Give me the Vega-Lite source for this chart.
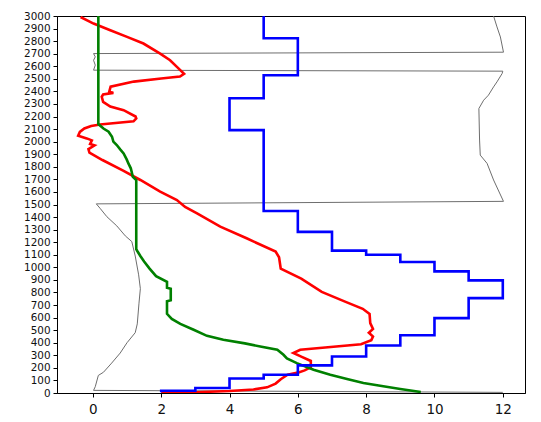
{
  "$schema": "https://vega.github.io/schema/vega-lite/v6.json",
  "width": 468,
  "height": 377,
  "autosize": {"type": "none"},
  "padding": {"left": 57, "top": 16, "right": 16, "bottom": 29},
  "background": "white",
  "config": {
    "view": {"stroke": "#000", "strokeWidth": 1},
    "axis": {"grid": false, "domainColor": "#000", "tickColor": "#000", "labelColor": "#111", "labelFont": "DejaVu Sans", "labelFontSize": 13.5, "tickSize": 4, "title": null, "labelOverlap": false, "labelFlush": false, "labelBound": false, "format": "d"}
  },
  "datasets": {
    "gray": [
      {"x": 12.0, "y": 5}, {"x": 0.02, "y": 21}, {"x": 0.07, "y": 50}, {"x": 0.16, "y": 140}, {"x": 0.31, "y": 165},
      {"x": 0.55, "y": 238}, {"x": 0.8, "y": 318}, {"x": 1.0, "y": 400}, {"x": 1.24, "y": 480}, {"x": 1.3, "y": 550},
      {"x": 1.35, "y": 715}, {"x": 1.39, "y": 830}, {"x": 1.34, "y": 940}, {"x": 1.24, "y": 1090}, {"x": 1.14, "y": 1205},
      {"x": 0.95, "y": 1250}, {"x": 0.7, "y": 1330}, {"x": 0.41, "y": 1403}, {"x": 0.21, "y": 1470}, {"x": 0.1, "y": 1505},
      {"x": 12.02, "y": 1525}, {"x": 11.73, "y": 1695}, {"x": 11.54, "y": 1827}, {"x": 11.34, "y": 1893}, {"x": 11.32, "y": 2013},
      {"x": 11.3, "y": 2264}, {"x": 11.44, "y": 2330}, {"x": 11.58, "y": 2370}, {"x": 11.73, "y": 2436}, {"x": 11.83, "y": 2476},
      {"x": 11.98, "y": 2542}, {"x": 12.0, "y": 2561}, {"x": 0.02, "y": 2569}, {"x": 0.07, "y": 2609}, {"x": 0.02, "y": 2648},
      {"x": 0.07, "y": 2675}, {"x": 0.02, "y": 2701}, {"x": 12.02, "y": 2712}, {"x": 11.93, "y": 2833}, {"x": 11.83, "y": 2913},
      {"x": 11.73, "y": 3000}
    ],
    "red": [
      {"x": 2.0, "y": 0}, {"x": 3.0, "y": 6}, {"x": 4.0, "y": 16}, {"x": 4.7, "y": 28}, {"x": 5.1, "y": 45},
      {"x": 5.35, "y": 75}, {"x": 5.5, "y": 110}, {"x": 5.7, "y": 145}, {"x": 6.0, "y": 162}, {"x": 6.2, "y": 180},
      {"x": 6.38, "y": 205}, {"x": 6.38, "y": 255}, {"x": 6.1, "y": 290}, {"x": 5.87, "y": 318}, {"x": 6.07, "y": 344},
      {"x": 6.8, "y": 362}, {"x": 7.85, "y": 388}, {"x": 8.15, "y": 420}, {"x": 8.2, "y": 450}, {"x": 8.08, "y": 480},
      {"x": 8.2, "y": 510}, {"x": 8.12, "y": 556}, {"x": 8.1, "y": 630}, {"x": 7.9, "y": 670}, {"x": 7.4, "y": 725},
      {"x": 6.7, "y": 805}, {"x": 6.1, "y": 910}, {"x": 5.5, "y": 990}, {"x": 5.45, "y": 1080}, {"x": 5.35, "y": 1125},
      {"x": 4.5, "y": 1231}, {"x": 3.73, "y": 1324}, {"x": 3.05, "y": 1430}, {"x": 2.7, "y": 1480}, {"x": 2.46, "y": 1536},
      {"x": 1.97, "y": 1602}, {"x": 1.39, "y": 1695}, {"x": 0.9, "y": 1768}, {"x": 0.28, "y": 1854}, {"x": -0.1, "y": 1912},
      {"x": -0.13, "y": 1940}, {"x": 0.05, "y": 1970}, {"x": -0.08, "y": 1982}, {"x": -0.03, "y": 2010}, {"x": -0.18, "y": 2026},
      {"x": -0.43, "y": 2048}, {"x": -0.38, "y": 2078}, {"x": -0.25, "y": 2105}, {"x": -0.05, "y": 2125}, {"x": 0.21, "y": 2137},
      {"x": 1.19, "y": 2162}, {"x": 1.27, "y": 2185}, {"x": 1.25, "y": 2200}, {"x": 0.9, "y": 2251}, {"x": 0.51, "y": 2280},
      {"x": 0.3, "y": 2317}, {"x": 0.26, "y": 2357}, {"x": 0.3, "y": 2375}, {"x": 0.6, "y": 2388}, {"x": 0.48, "y": 2398},
      {"x": 0.52, "y": 2438}, {"x": 1.2, "y": 2478}, {"x": 2.0, "y": 2503}, {"x": 2.55, "y": 2518}, {"x": 2.67, "y": 2540},
      {"x": 2.46, "y": 2595}, {"x": 2.26, "y": 2648}, {"x": 1.97, "y": 2701}, {"x": 1.48, "y": 2781}, {"x": 1.0, "y": 2834},
      {"x": 0.51, "y": 2887}, {"x": 0.02, "y": 2940}, {"x": -0.36, "y": 2992}
    ],
    "green": [
      {"x": 9.6, "y": 8}, {"x": 9.0, "y": 32}, {"x": 8.41, "y": 58}, {"x": 7.92, "y": 80}, {"x": 7.44, "y": 112},
      {"x": 6.95, "y": 145}, {"x": 6.46, "y": 185}, {"x": 5.97, "y": 238}, {"x": 5.68, "y": 275}, {"x": 5.58, "y": 304},
      {"x": 5.4, "y": 345}, {"x": 4.9, "y": 370}, {"x": 4.45, "y": 395}, {"x": 3.82, "y": 423}, {"x": 3.34, "y": 455},
      {"x": 2.95, "y": 503}, {"x": 2.56, "y": 550}, {"x": 2.31, "y": 590}, {"x": 2.17, "y": 630}, {"x": 2.17, "y": 730},
      {"x": 2.28, "y": 738}, {"x": 2.28, "y": 830}, {"x": 2.17, "y": 838}, {"x": 2.17, "y": 885}, {"x": 1.85, "y": 930},
      {"x": 1.66, "y": 990}, {"x": 1.5, "y": 1046}, {"x": 1.39, "y": 1090}, {"x": 1.3, "y": 1130}, {"x": 1.27, "y": 1144},
      {"x": 1.27, "y": 1695}, {"x": 1.17, "y": 1721}, {"x": 1.11, "y": 1788}, {"x": 1.04, "y": 1827}, {"x": 0.99, "y": 1859},
      {"x": 0.9, "y": 1907}, {"x": 0.8, "y": 1939}, {"x": 0.7, "y": 1973}, {"x": 0.6, "y": 2000}, {"x": 0.56, "y": 2039},
      {"x": 0.46, "y": 2079}, {"x": 0.31, "y": 2105}, {"x": 0.16, "y": 2140}, {"x": 0.16, "y": 3000}
    ],
    "blue": [
      {"x": 2, "y": 5}, {"x": 3, "y": 18}, {"x": 4, "y": 40}, {"x": 5, "y": 115}, {"x": 6, "y": 145},
      {"x": 7, "y": 220}, {"x": 8, "y": 291}, {"x": 9, "y": 378}, {"x": 10, "y": 460}, {"x": 11, "y": 596},
      {"x": 12, "y": 755}, {"x": 11, "y": 896}, {"x": 10, "y": 968}, {"x": 9, "y": 1043}, {"x": 8, "y": 1100},
      {"x": 7, "y": 1133}, {"x": 6, "y": 1282}, {"x": 5, "y": 1448}, {"x": 4, "y": 2092}, {"x": 5, "y": 2346},
      {"x": 6, "y": 2529}, {"x": 5, "y": 2823}, {"x": 5, "y": 3000}
    ]
  },
  "encoding": {
    "x": {"field": "x", "type": "quantitative", "scale": {"domain": [-1.05, 12.65], "nice": false, "zero": false},
      "axis": {"values": [0, 2, 4, 6, 8, 10, 12], "labelPadding": 5}},
    "y": {"field": "y", "type": "quantitative", "scale": {"domain": [0, 3000], "nice": false},
      "axis": {"values": [0,100,200,300,400,500,600,700,800,900,1000,1100,1200,1300,1400,1500,1600,1700,1800,1900,2000,2100,2200,2300,2400,2500,2600,2700,2800,2900,3000], "labelPadding": 3, "labelFontSize": 10.4}},
    "order": {"field": "y", "type": "quantitative"}
  },
  "layer": [
    {"data": {"name": "gray"}, "mark": {"type": "line", "color": "#6e6e6e", "strokeWidth": 1, "clip": true}},
    {"data": {"name": "red"}, "mark": {"type": "line", "color": "#ff0000", "strokeWidth": 2.6, "clip": true}},
    {"data": {"name": "green"}, "mark": {"type": "line", "color": "#008000", "strokeWidth": 2.6, "clip": true}},
    {"data": {"name": "blue"}, "mark": {"type": "line", "color": "#0000ff", "strokeWidth": 2.6, "interpolate": "step-before", "clip": true}}
  ]
}
